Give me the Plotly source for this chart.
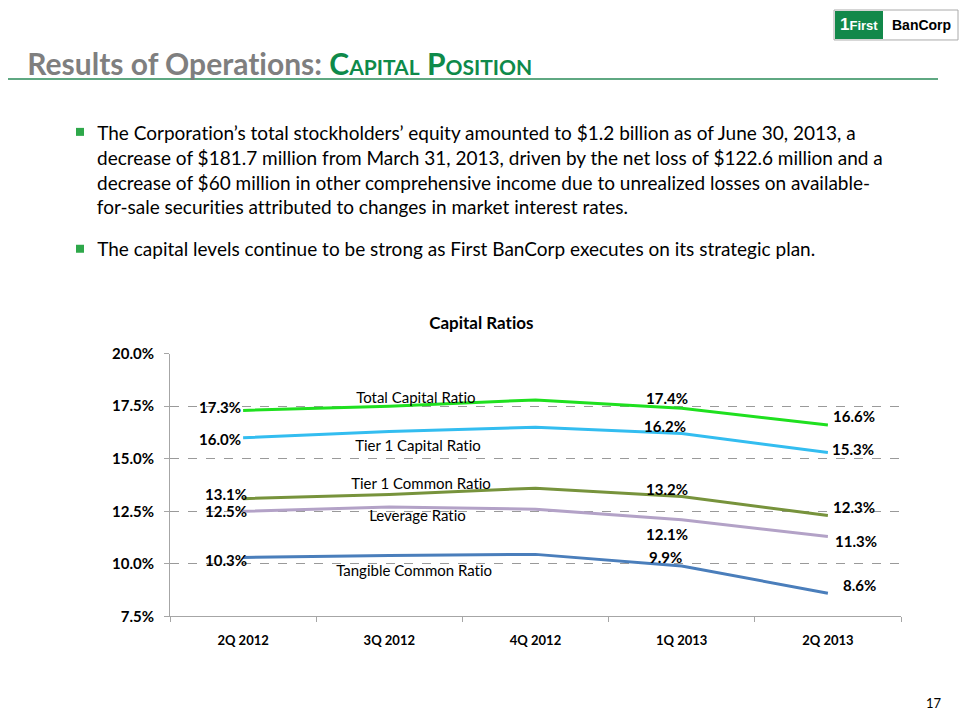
import plotly.graph_objects as go

# ---------------- data ----------------
quarters = ["2Q 2012", "3Q 2012", "4Q 2012", "1Q 2013", "2Q 2013"]
series_names = ["Total Capital Ratio", "Tier 1 Capital Ratio", "Tier 1 Common Ratio",
                "Leverage Ratio", "Tangible Common Ratio"]
total_capital = [17.3, 17.5, 17.8, 17.4, 16.6]
tier1_capital = [16.0, 16.3, 16.5, 16.2, 15.3]
tier1_common = [13.1, 13.3, 13.6, 13.2, 12.3]
leverage = [12.5, 12.7, 12.6, 12.1, 11.3]
tangible_common = [10.3, 10.4, 10.45, 9.9, 8.6]
series_values = [total_capital, tier1_capital, tier1_common, leverage, tangible_common]
labeled_points = [0, 3, 4]
y_ticks = [7.5, 10.0, 12.5, 15.0, 17.5, 20.0]

bullets = [
    ["The Corporation\u2019s total stockholders\u2019 equity amounted to $1.2 billion as of June 30, 2013, a",
     "decrease of $181.7 million from March 31, 2013, driven by the net loss of $122.6 million and a",
     "decrease of $60 million in other comprehensive income due to unrealized losses on available-",
     "for-sale securities attributed to changes in market interest rates."],
    ["The capital levels continue to be strong as First BanCorp executes on its strategic plan."],
]

# ---------------- styles ----------------
colors = ["#1FE01F", "#33BDF0", "#77933C", "#B3A2C7", "#4A7EBB"]
FONT = "Lato"
W, H = 960, 720
# the photographed page maps page-y to picture-y as 9 + 0.976*y
Y_OFF, Y_SCALE = 9.0, 0.976

def px(x):
    return x / W

def py(y):
    return 1 - ((y - Y_OFF) / Y_SCALE) / H

# label pixel offsets per labelled point (xshift, yshift)
label_offsets = [
    [(-23, 3), (-15, 10), (26, 9)],
    [(-23, -1), (-17, 7), (25, 3)],
    [(-17, 5), (-15, 7), (26, 8)],
    [(-17, 0), (-15, -14), (28, -4)],
    [(-17, -2), (-16, 9), (32, 8)],
]
name_pos = [(1.182, 17.956), (1.197, 15.66), (1.218, 13.855), (1.194, 12.3), (1.17, 9.72)]

fig = go.Figure()
for name, vals, col in zip(series_names, series_values, colors):
    fig.add_trace(go.Scatter(x=quarters, y=vals, mode="lines", name=name,
                             line=dict(color=col, width=3), showlegend=False,
                             hoverinfo="skip"))

annotations = []
for si, vals in enumerate(series_values):
    for k, idx in enumerate(labeled_points):
        dx, dy = label_offsets[si][k]
        annotations.append(dict(x=quarters[idx], y=vals[idx], xref="x", yref="y",
                                text=f"<b>{vals[idx]:.1f}%</b>", showarrow=False,
                                xshift=dx, yshift=dy / Y_SCALE,
                                font=dict(family=FONT, size=15, color="#000000")))
    nx, ny = name_pos[si]
    annotations.append(dict(x=nx, y=ny, xref="x", yref="y", text=series_names[si],
                            showarrow=False, font=dict(family=FONT, size=15, color="#000000")))

# page title
annotations.append(dict(
    x=px(25), y=py(62), xref="paper", yref="paper", xanchor="left", yanchor="middle",
    text=("<b>Results of Operations: </b>"
          "<b><span style='color:#0E8A4A'>C<span style='font-size:21px'>APITAL</span> "
          "P<span style='font-size:21px'>OSITION</span></span></b>"),
    showarrow=False, font=dict(family=FONT, size=30, color="#7F7F7F")))

# bullet text
line_y = [[132, 157, 182, 206], [248]]
for b, lines in enumerate(bullets):
    for j, ln in enumerate(lines):
        annotations.append(dict(x=px(95), y=py(line_y[b][j]), xref="paper", yref="paper",
                                xanchor="left", yanchor="middle", text=ln, showarrow=False,
                                font=dict(family=FONT, size=19, color="#000000")))

# chart title
annotations.append(dict(x=px(481), y=py(322), xref="paper", yref="paper",
                        xanchor="center", yanchor="middle",
                        text="<b>Capital Ratios</b>", showarrow=False,
                        font=dict(family=FONT, size=17, color="#000000")))
# page number
annotations.append(dict(x=px(944), y=py(703), xref="paper", yref="paper",
                        xanchor="right", yanchor="middle",
                        text="17", showarrow=False,
                        font=dict(family=FONT, size=13, color="#000000")))
# logo text
annotations.append(dict(x=px(859), y=py(24), xref="paper", yref="paper",
                        xanchor="center", yanchor="middle",
                        text="<b><span style='font-size:17px'>1</span>First</b>", showarrow=False,
                        font=dict(family="Liberation Sans", size=13, color="#FFFFFF")))
annotations.append(dict(x=px(921), y=py(24), xref="paper", yref="paper",
                        xanchor="center", yanchor="middle",
                        text="<b>BanCorp</b>", showarrow=False,
                        font=dict(family="Liberation Sans", size=14, color="#000000")))

shapes = [
    dict(type="line", xref="paper", yref="paper", x0=px(8), x1=px(938), y0=py(78), y1=py(78),
         line=dict(color="#5FA882", width=2)),
    dict(type="rect", xref="paper", yref="paper", x0=px(834), x1=px(958), y0=py(9), y1=py(39),
         line=dict(color="#AAAAAA", width=1), fillcolor="#FFFFFF", layer="below"),
    dict(type="rect", xref="paper", yref="paper", x0=px(835), x1=px(883), y0=py(10), y1=py(38),
         line=dict(width=0), fillcolor="#12884A", layer="below"),
]
for yc in [131, 248]:
    shapes.append(dict(type="rect", xref="paper", yref="paper", x0=px(76), x1=px(84),
                       y0=py(yc - 4), y1=py(yc + 4), line=dict(width=0), fillcolor="#2EA84A"))

fig.update_layout(
    width=W, height=H, margin=dict(l=0, r=0, t=0, b=0, pad=0), autosize=False,
    paper_bgcolor="#FFFFFF", plot_bgcolor="#FFFFFF",
    annotations=annotations, shapes=shapes,
    xaxis=dict(domain=[px(170), px(901)], type="category", showgrid=False,
               range=[-0.5, 4.5],
               showline=True, linecolor="#A6A6A6", linewidth=1,
               ticks="outside", tickson="boundaries", ticklen=5, tickcolor="#A6A6A6",
               ticklabelstandoff=12,
               tickfont=dict(family=FONT, size=13, color="#000000"),
               tickprefix="<b>", ticksuffix="</b>", fixedrange=True),
    yaxis=dict(domain=[py(616), py(353)], range=[7.5, 20.0], tickvals=y_ticks,
               ticktext=[f"<b>{v:.1f}%</b>" for v in y_ticks],
               showgrid=True, gridcolor="#9A9A9A", griddash="dash", gridwidth=1,
               showline=True, linecolor="#A6A6A6", linewidth=1,
               ticks="outside", ticklen=5, tickcolor="#A6A6A6",
               ticklabelstandoff=7,
               tickfont=dict(family=FONT, size=15, color="#000000"), zeroline=False,
               fixedrange=True),
)

post = ("document.body.style.margin='0';document.body.style.padding='0';"
        "document.body.style.overflow='hidden';"
        "var s=document.createElement('style');"
        "s.textContent='text{font-variant-ligatures:none !important;"
        "font-feature-settings:\"liga\" 0 !important;}';"
        "document.head.appendChild(s);")

fig.write_html("out.html", config={"responsive": False, "displayModeBar": False},
               post_script=post)
